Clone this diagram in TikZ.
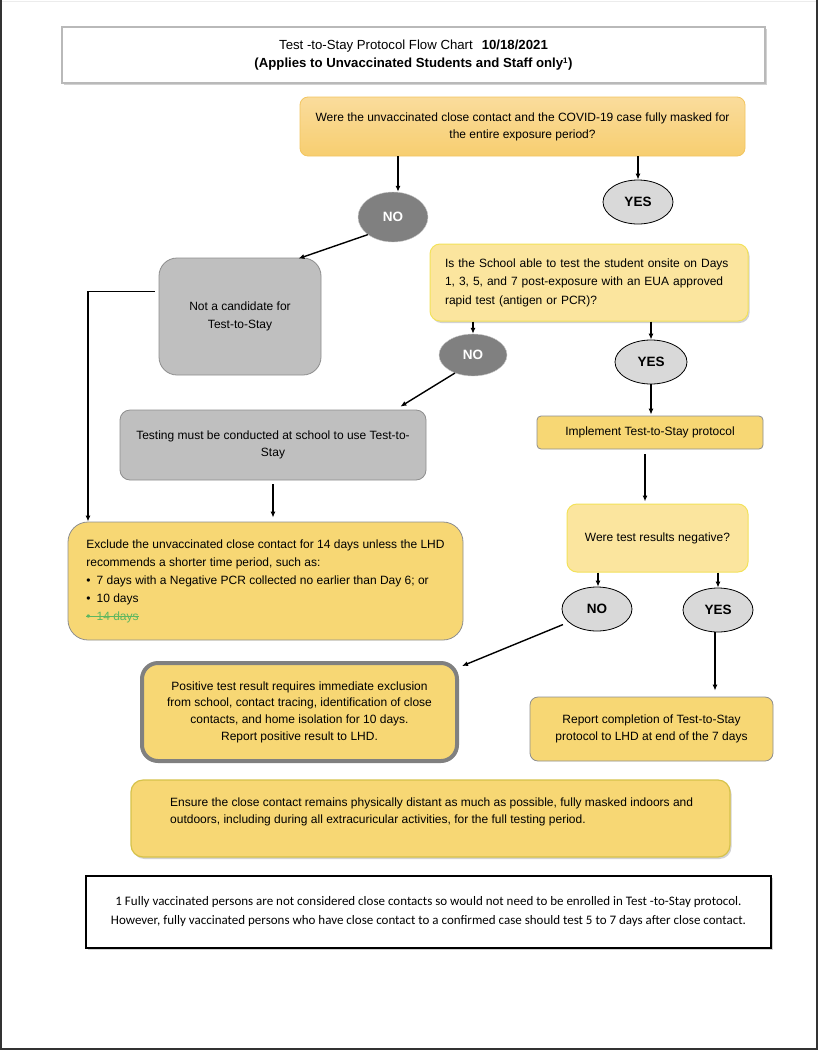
\documentclass[tikz,border=0pt]{standalone}
\usepackage{fontspec}
\setmainfont{Liberation Sans}
\newfontfamily\calfont{Carlito}
\usetikzlibrary{arrows.meta,shadows,shapes.geometric}
\definecolor{qorangeT}{HTML}{FADC9C}
\definecolor{qorangeB}{HTML}{F7CE70}
\definecolor{qorangeD}{HTML}{F2C560}
\definecolor{lyellow}{HTML}{FBE59E}
\definecolor{lyellowD}{HTML}{F3E25A}
\definecolor{myellow}{HTML}{F7D774}
\definecolor{boxgray}{HTML}{BFBFBF}
\definecolor{boxgrayD}{HTML}{8E8E8E}
\definecolor{darkno}{HTML}{808080}
\definecolor{lightell}{HTML}{D9D9D9}
\definecolor{strikegreen}{HTML}{5DB760}
\definecolor{ensureD}{HTML}{D6C24A}
\definecolor{pageframe}{HTML}{333333}
\newcommand{\fs}{\fontsize{12}{17.5}\selectfont}
\newsavebox{\strikebox}
\newcommand{\mystrike}[1]{\leavevmode\sbox{\strikebox}{#1}\rlap{\rule[0.3em]{\wd\strikebox}{0.7pt}}\usebox{\strikebox}}
\tikzset{
  box/.style={draw, rectangle, align=center, inner sep=0pt, font=\fs, text=black},
  yellowbox/.style={box, fill=myellow, draw=boxgrayD, line width=0.8pt},
  graybox/.style={box, fill=boxgray, draw=boxgrayD, line width=0.8pt},
  lybox/.style={box, fill=lyellow, draw=lyellowD, line width=1pt},
  ell/.style={draw, ellipse, inner sep=0pt, font=\fontsize{13.5}{14}\selectfont\bfseries},
  noell/.style={ell, fill=darkno, draw=gray!40, text=white},
  lell/.style={ell, fill=lightell, draw=black, line width=0.8pt, text=black},
  arr/.style={-{Latex[length=6pt,width=5pt]}, line width=1.4pt, black},
  softshadow/.style={drop shadow={shadow xshift=1.5pt, shadow yshift=-2pt, opacity=0.35, fill=gray}},
}
\begin{document}
\begin{tikzpicture}[x=1pt,y=-1pt]
\useasboundingbox (0,0) rectangle (818,1050);
\fill[white] (0,0) rectangle (818,1050);
\draw[gray!15, line width=1pt] (0,1) -- (818,1);
\draw[pageframe, line width=2pt] (1,0) -- (1,1049) -- (817,1049) -- (817,0);

% title
\node[box, draw=gray!55, line width=1.5pt, fill=white, softshadow, minimum width=703pt, minimum height=56pt, font=\fontsize{13.2}{18}\selectfont] (title) at (413.5,55)
  {Test -to-Stay Protocol Flow Chart\hspace{9pt}\textbf{10/18/2021}\\ \textbf{(Applies to Unvaccinated Students and Staff only\textsuperscript{\fontsize{8}{8}\selectfont 1})}};

% question 1
\node[box, rounded corners=8pt, top color=qorangeT, bottom color=qorangeB, draw=qorangeD, line width=0.8pt, minimum width=445pt, minimum height=59pt, font=\fontsize{12}{17}\selectfont] (q1) at (522.5,126.5)
  {Were the unvaccinated close contact and the COVID-19 case fully masked for\\the entire exposure period?};

\node[noell, minimum width=70pt, minimum height=50pt] (no1) at (393,217) {NO};
\node[lell, minimum width=70pt, minimum height=44pt] (yes1) at (638,202) {YES};

\node[graybox, rounded corners=18pt, minimum width=162pt, minimum height=117pt] (notcand) at (240,316.5)
  {Not a candidate for\\Test-to-Stay};

\node[lybox, rounded corners=10pt, softshadow, minimum width=318pt, minimum height=77pt, text width=288pt, align=left, font=\fontsize{12}{18.5}\selectfont] (q2) at (589,282.5)
  {Is the School able to test the student onsite on Days\\1, 3, 5, and 7 post-exposure with an EUA approved\\rapid test (antigen or PCR)?};

\node[noell, minimum width=68pt, minimum height=42pt] (no2) at (473,355) {NO};
\node[lell, minimum width=72pt, minimum height=44pt] (yes2) at (651,362) {YES};

\node[graybox, rounded corners=10pt, minimum width=306pt, minimum height=70pt] (testing) at (273,445)
  {Testing must be conducted at school to use Test-to-\\Stay};

\node[yellowbox, rounded corners=4pt, minimum width=226pt, minimum height=33pt] (implement) at (650,432.5)
  {Implement Test-to-Stay protocol};

\node[yellowbox, rounded corners=20pt, minimum width=395pt, minimum height=118pt, align=left, font=\fontsize{12}{18}\selectfont] (exclude) at (265.5,581)
  {Exclude the unvaccinated close contact for 14 days unless the LHD\\recommends a shorter time period, such as:\\\textbullet\hspace{6pt}7 days with a Negative PCR collected no earlier than Day 6; or\\\textbullet\hspace{6pt}10 days\\{\color{strikegreen}\mystrike{\textbullet\hspace{6pt}14 days}}};

\node[lybox, rounded corners=10pt, minimum width=181pt, minimum height=68pt] (q3) at (657.5,538)
  {Were test results negative?};

\node[lell, minimum width=70pt, minimum height=44pt] (no3) at (597,609) {NO};
\node[lell, minimum width=70pt, minimum height=44pt] (yes3) at (718,610) {YES};

\node[box, fill=myellow, draw=darkno, line width=4pt, rounded corners=16pt, minimum width=315pt, minimum height=98pt, font=\fontsize{12}{16.7}\selectfont] (positive) at (299.5,712)
  {Positive test result requires immediate exclusion\\from school, contact tracing, identification of close\\contacts, and home isolation for 10 days.\\Report positive result to LHD.};

\node[yellowbox, rounded corners=8pt, minimum width=243pt, minimum height=64pt, font=\fontsize{12}{17}\selectfont] (report) at (651.5,729)
  {Report completion of Test-to-Stay\\protocol to LHD at end of the 7 days};

\node[box, fill=myellow, draw=ensureD, line width=1.2pt, rounded corners=12pt, softshadow, minimum width=599pt, minimum height=77pt] (ensure) at (430.5,818.5) {};
\node[anchor=west, align=left, inner sep=0pt, font=\fontsize{12}{17}\selectfont] (ensuretext) at (170,811.5)
  {Ensure the close contact remains physically distant as much as possible, fully masked indoors and\\outdoors, including during all extracuricular activities, for the full testing period.};

\node[box, draw=black, line width=1.5pt, fill=white, softshadow, minimum width=685pt, minimum height=72pt, font=\calfont\fontsize{13}{19}\selectfont] (foot) at (428.5,912)
  {1 Fully vaccinated persons are not considered close contacts so would not need to be enrolled in Test -to-Stay protocol.\\However, fully vaccinated persons who have close contact to a confirmed case should test 5 to 7 days after close contact.};

% connectors
\coordinate (exl) at (88,0);
\coordinate (q1l) at (398,0);
\draw[arr] (q1.south -| q1l) -- (no1.north -| q1l);
\draw[arr] (q1.south -| yes1) -- (yes1.north);
\draw[arr] (no1.215) -- ([xshift=-23pt,yshift=-1pt]notcand.north east);
\draw[arr] ([xshift=-4pt,yshift=25pt]notcand.west) -| (exclude.north -| exl);
\draw[arr] (q2.south -| no2) -- (no2.north);
\draw[arr] (q2.south -| yes2) -- (yes2.north);
\draw[arr] (no2.225) -- ([xshift=-26pt,yshift=3pt]testing.north east);
\draw[arr, shorten <=4pt, shorten >=4pt] (testing.south) -- (exclude.north -| testing.south);
\draw[arr, shorten >=1pt] (yes2.south) -- (implement.north -| yes2.south);
\coordinate (iml) at (645,0);
\draw[arr, shorten <=5pt, shorten >=2pt] (implement.south -| iml) -- (q3.north -| iml);
\coordinate (n3l) at (598,0);
\draw[arr] (q3.south -| n3l) -- (no3.north -| n3l);
\draw[arr] (q3.south -| yes3) -- (yes3.north);
\draw[arr, shorten <=6pt] (no3.205) -- ([xshift=3pt,yshift=-5pt]positive.north east);
\coordinate (y3l) at (715,0);
\draw[arr, shorten >=6pt] (yes3.south -| y3l) -- (report.north -| y3l);
\end{tikzpicture}
\end{document}
